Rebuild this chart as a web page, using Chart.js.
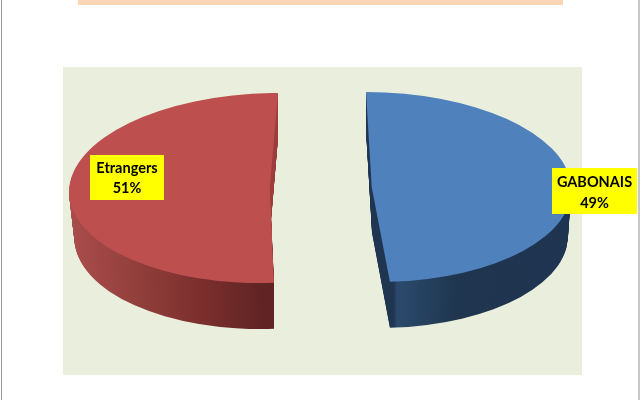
<!DOCTYPE html>
<html>
<head>
<meta charset="utf-8">
<style>html,body{margin:0;padding:0;background:#fff}canvas{display:block}</style>
<script src="https://cdn.jsdelivr.net/npm/chart.js@4"></script>
</head>
<body>
<canvas id="c" width="640" height="400"></canvas>
<script>
const categories = ['GABONAIS', 'Etrangers'];
const shares = [49, 51];
const faceColors = ['#4f81bd', '#bd504e'];

// face ellipse of every slice on the page: centre, radii, lean, side depth, taper anchor
const slices = [
  {cx: 371.7, cy: 187, rx: 199.5, ry: 95, lean: 5.7, depth: 46, anchor: 390, taper: 0.018},
  {cx: 269.7, cy: 188, rx: 200.5, ry: 95, lean: -8.3, depth: 46, anchor: 275, taper: 0.026,
   cut: {x: 250, y: 90, w: 40, h: 150, color: '#9e403f'}}
];
const sideStops = [
  [[0, '#1f3550'], [0.54, '#1f3550'], [0.55, '#2b4a6c'], [0.7, '#20364f'], [1, '#1f3450']],
  [[0, '#a94d4b'], [0.08, '#a04745'], [0.17, '#93403d'], [0.33, '#7d302e'], [0.51, '#5f2423'], [1, '#5f2423']]
];
const labelBoxes = [
  {x: 552, y: 168, w: 85, h: 46, line1: 14, line2: 35},
  {x: 90, y: 155, w: 74, h: 45, line1: 13, line2: 33}
];

const page = {
  framePaint(ctx) {
    ctx.fillStyle = '#ffffff'; ctx.fillRect(0, 0, 640, 400);
    ctx.fillStyle = '#9a9a9a'; ctx.fillRect(1, 0, 1, 400);
    ctx.fillStyle = '#c8c8c8'; ctx.fillRect(638, 0, 2, 400);
    ctx.fillStyle = '#fcd5b5'; ctx.fillRect(78, 0, 485, 5);
    ctx.fillStyle = '#eaefdd'; ctx.fillRect(63, 67, 519, 308);
  }
};

function place(ctx, arc, s, k) {
  const r = arc.outerRadius;
  const f = 1 - s.taper * k / s.depth;
  const a = s.rx * f / r, c = s.lean * f / r, d = s.ry / r;
  const px = s.anchor + (s.cx - s.anchor) * f;
  ctx.transform(a, 0, c, d, px - a * arc.x - c * arc.y, s.cy + k - d * arc.y);
}

function withFill(arc, fill) {
  const o = Object.create(arc.options);
  Object.defineProperty(o, 'backgroundColor', {value: fill});
  return o;
}

const pie3d = {
  id: 'pie3d',
  beforeDraw(chart) { page.framePaint(chart.ctx); },
  beforeDatasetsDraw(chart) {
    const ctx = chart.ctx;
    const arcs = chart.getDatasetMeta(0).data;
    arcs.forEach((arc, i) => {
      const s = slices[i], r = arc.outerRadius;
      const base = arc.options;
      const grad = ctx.createLinearGradient(arc.x - r, 0, arc.x + r, 0);
      sideStops[i].forEach(st => grad.addColorStop(st[0], st[1]));
      arc.options = withFill(arc, grad);
      for (let k = s.depth; k >= 1; k--) {
        ctx.save(); place(ctx, arc, s, k); arc.draw(ctx); ctx.restore();
      }
      if (s.cut) {
        arc.options = withFill({options: base}, s.cut.color);
        ctx.save();
        ctx.beginPath(); ctx.rect(s.cut.x, s.cut.y, s.cut.w, s.cut.h); ctx.clip();
        for (let k = s.depth; k >= 1; k--) {
          ctx.save(); place(ctx, arc, s, k); arc.draw(ctx); ctx.restore();
        }
        ctx.restore();
      }
      arc.options = base;
      ctx.save(); place(ctx, arc, s, 0); arc.draw(ctx); ctx.restore();
    });
    return false;
  },
  afterDraw(chart) {
    const ctx = chart.ctx;
    categories.forEach((name, i) => {
      const b = labelBoxes[i];
      ctx.fillStyle = '#ffff00'; ctx.fillRect(b.x, b.y, b.w, b.h);
      ctx.fillStyle = '#000000';
      ctx.font = 'bold 14.5px Lato, "Open Sans", sans-serif';
      ctx.textAlign = 'center'; ctx.textBaseline = 'middle';
      const mx = b.x + b.w / 2;
      ctx.fillText(name, mx, b.y + b.line1);
      ctx.fillText(shares[i] + '%', mx, b.y + b.line2);
    });
  }
};

new Chart(document.getElementById('c'), {
  type: 'pie',
  data: {labels: categories, datasets: [{data: shares, backgroundColor: faceColors, borderWidth: 0}]},
  options: {
    responsive: false, animation: false, rotation: 0,
    plugins: {legend: {display: false}, tooltip: {enabled: false}},
    layout: {padding: 0}
  },
  plugins: [pie3d]
});
</script>
</body>
</html>
